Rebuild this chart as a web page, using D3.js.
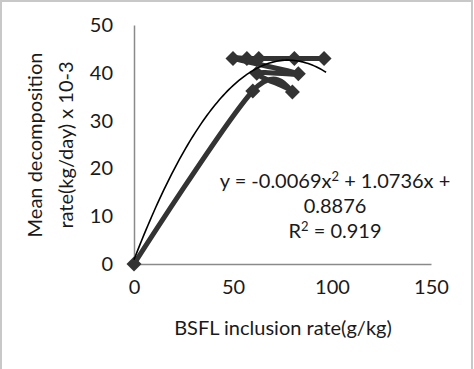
<!DOCTYPE html>
<html>
<head>
<meta charset="utf-8">
<script src="https://cdn.jsdelivr.net/npm/d3@7"></script>
<style>
html,body{margin:0;padding:0;background:#fff;}
svg{display:block;}
text{font-family:Lato,"Open Sans",sans-serif;fill:#1a1a1a;}
</style>
</head>
<body>
<svg id="chart" width="474" height="369"></svg>
<script>
// Data
const inclusionRate = [0, 60, 80, 62, 83, 50, 57, 63, 81, 96];
const decompositionRate = [0, 36.2, 36, 39.9, 39.8, 43, 43, 43, 43, 43];
const xTicks = [0, 50, 100, 150];
const yTicks = [0, 10, 20, 30, 40, 50];
const trendCoefficients = [-0.0069, 1.0736, 0.8876]; // a, b, c
const trendRange = [0, 97];
// each line: list of [text, isSuperscript]
const equationLines = [
  [["y = -0.0069x", false], ["2", true], [" + 1.0736x +", false]],
  [["0.8876", false]],
  [["R", false], ["2", true], [" = 0.919", false]]
];
const xTitle = "BSFL inclusion rate(g/kg)";
const yTitleLines = ["Mean decomposition", "rate(kg/day) x 10-3"];

const svg = d3.select("#chart");
const W = 474, H = 369;
const FS = 20;

// border (top, left, right)
svg.append("path").attr("d", `M1,${H} V1 H${W - 2} V${H}`)
  .attr("fill", "none").attr("stroke", "#c8c8c8").attr("stroke-width", 2);

const x = d3.scaleLinear().domain([0, 150]).range([134, 431]);
const y = d3.scaleLinear().domain([0, 50]).range([264, 25]);

// axes
const xAxis = d3.axisBottom(x).tickValues(xTicks).tickSize(0).tickPadding(16);
const gx = svg.append("g").attr("transform", `translate(0,${y(0)})`).call(xAxis);
gx.select(".domain").attr("stroke", "#8a8a8a").attr("stroke-width", 1.5);
gx.selectAll("text").attr("font-size", FS).attr("font-family", "Lato,'Open Sans',sans-serif").attr("fill", "#1a1a1a");

const yAxis = d3.axisLeft(y).tickValues(yTicks).tickSize(0).tickPadding(21);
const gy = svg.append("g").attr("transform", `translate(${x(0)},0)`).call(yAxis);
gy.select(".domain").attr("stroke", "#8a8a8a").attr("stroke-width", 1.5);
gy.selectAll("text").attr("font-size", FS).attr("font-family", "Lato,'Open Sans',sans-serif").attr("fill", "#1a1a1a");

// data series: smoothed line
const pts = inclusionRate.map((v, i) => [v, decompositionRate[i]]);
const line = d3.line().x(d => x(d[0])).y(d => y(d[1])).curve(d3.curveCardinal.tension(0));
svg.append("path").datum(pts).attr("d", line)
  .attr("fill", "none").attr("stroke", "#333").attr("stroke-width", 5).attr("stroke-linejoin", "round");

// markers
const sym = d3.symbol(d3.symbolSquare, 112);
svg.selectAll(".mk").data(pts).join("path").attr("class", "mk")
  .attr("d", sym())
  .attr("transform", d => `translate(${x(d[0])},${y(d[1])}) rotate(45)`)
  .attr("fill", "#333");

// trendline
const [a, b, c] = trendCoefficients;
const trendPts = d3.range(trendRange[0], trendRange[1] + 0.5, 1).map(v => [v, a * v * v + b * v + c]);
svg.append("path").datum(trendPts)
  .attr("d", d3.line().x(d => x(d[0])).y(d => y(d[1])))
  .attr("fill", "none").attr("stroke", "#000").attr("stroke-width", 1.6);

// equation label
const eq = svg.append("g").selectAll("text").data(equationLines).join("text")
  .attr("x", 335).attr("y", (d, i) => 188 + i * 25)
  .attr("text-anchor", "middle").attr("font-size", FS);
eq.each(function(parts) {
  const t = d3.select(this);
  parts.forEach(([s, sup], k) => {
    const ts = t.append("tspan").text(s);
    if (sup) ts.attr("font-size", 13).attr("dy", -7);
    else if (k > 0 && parts[k - 1][1]) ts.attr("dy", 7);
  });
});

// axis titles
svg.append("text").attr("x", 283).attr("y", 335).attr("text-anchor", "middle")
  .attr("font-size", FS).text(xTitle);

svg.append("g").attr("transform", "translate(0,145) rotate(-90)")
  .selectAll("text").data(yTitleLines).join("text")
  .attr("x", 0).attr("y", (d, i) => 42 + i * 31)
  .attr("text-anchor", "middle").attr("font-size", FS).text(d => d);
</script>
</body>
</html>
